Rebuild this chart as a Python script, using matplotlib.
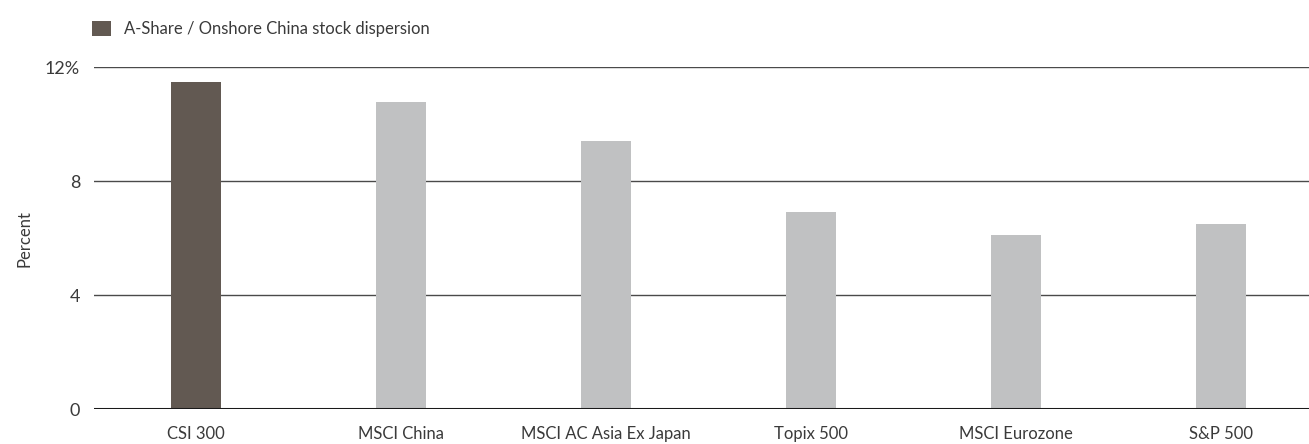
import matplotlib
matplotlib.use("Agg")
import matplotlib.pyplot as plt
from matplotlib.patches import Patch
import numpy as np

categories = ["CSI 300", "MSCI China", "MSCI AC Asia Ex Japan", "Topix 500", "MSCI Eurozone", "S&P 500"]
dispersion = [11.48, 10.78, 9.42, 6.92, 6.12, 6.50]
highlight = [True, False, False, False, False, False]
yticks = [0, 4, 8, 12]
yticklabels = ["0", "4", "8", "12%"]
legend_label = "A-Share / Onshore China stock dispersion"

DARK = "#625952"
LIGHT = "#c0c1c2"
TEXT = "#3a3a3a"

plt.rcParams["font.family"] = ["Lato", "DejaVu Sans"]

fig = plt.figure(figsize=(13.09, 4.44), dpi=100)
ax = fig.add_axes([94 / 1309, 34.7 / 444, 1 - 94 / 1309, 342 / 444])

x = np.arange(len(categories))
colors = [DARK if h else LIGHT for h in highlight]
ax.bar(x, dispersion, width=0.244, color=colors, zorder=3)

ax.set_ylim(0, 12)
ax.set_xlim(-0.4976, 5.43)
ax.set_yticks(yticks)
ax.set_yticklabels(yticklabels)
ax.set_xticks(x)
ax.set_xticklabels(categories)
ax.tick_params(axis="both", length=0, labelsize=12, colors=TEXT)
ax.tick_params(axis="y", labelsize=13, pad=10)
ax.tick_params(axis="x", pad=12)

for y in yticks[1:]:
    ax.axhline(y, color="#4a4a4a", linewidth=1.0, zorder=1)
ax.axhline(0, color="#1a1a1a", linewidth=2.2, zorder=4)

for side in ["top", "right", "left", "bottom"]:
    ax.spines[side].set_visible(False)

ax.set_ylabel("Percent", fontsize=12, color=TEXT, labelpad=9)

handles = [Patch(facecolor=DARK, edgecolor="none")]
fig.legend(handles, [legend_label], loc="upper left", bbox_to_anchor=(77 / 1309, 1 - 6 / 444),
           frameon=False, fontsize=12, handlelength=1.15, handleheight=1.0, handletextpad=0.75,
           labelcolor=TEXT)

fig.savefig("out.png", dpi=100)
